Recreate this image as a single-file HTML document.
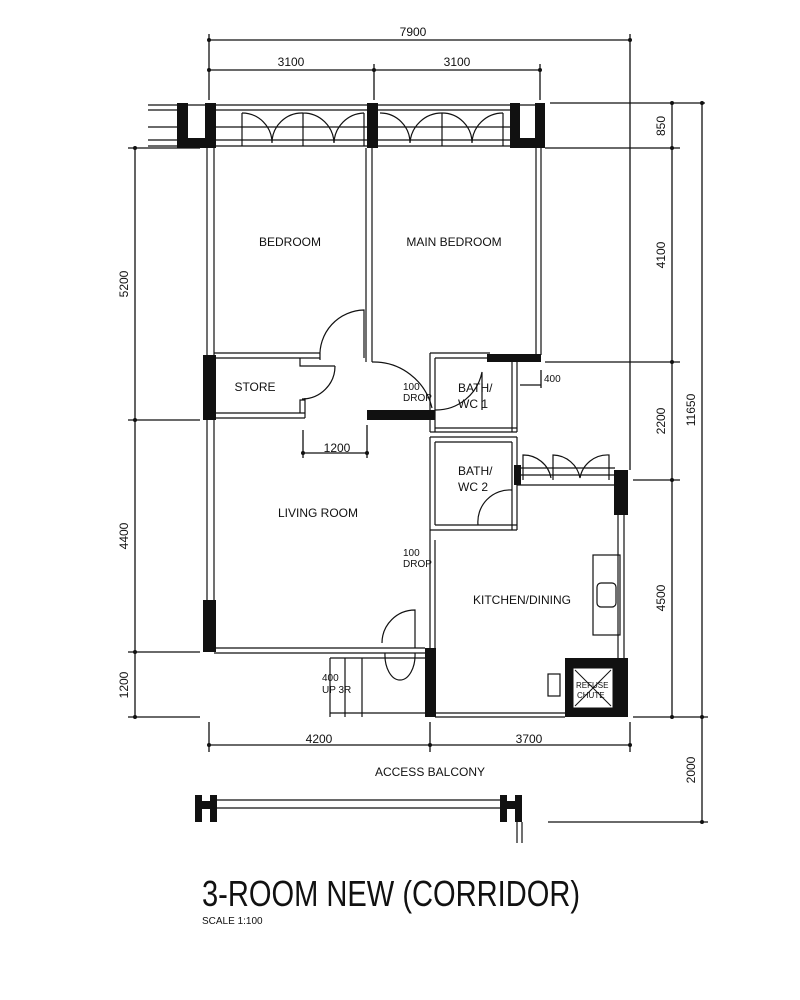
<!DOCTYPE html>
<html><head><meta charset="utf-8"><style>
html,body{margin:0;padding:0;background:#fff}
svg{display:block}
text{font-family:"Liberation Sans",sans-serif;fill:#111}
</style></head><body>
<svg width="800" height="1000" viewBox="0 0 800 1000" xmlns="http://www.w3.org/2000/svg">
<g stroke="#111" stroke-width="1.3" fill="none">
<line x1="209" y1="40" x2="630" y2="40"/>
<line x1="209" y1="34" x2="209" y2="100"/>
<line x1="630" y1="34" x2="630" y2="470"/>
<line x1="209" y1="70" x2="540" y2="70"/>
<line x1="374" y1="64" x2="374" y2="100"/>
<line x1="540" y1="64" x2="540" y2="100"/>
<line x1="550" y1="103" x2="705" y2="103"/>
<line x1="672" y1="103" x2="672" y2="717"/>
<line x1="702" y1="103" x2="702" y2="822"/>
<line x1="545" y1="148" x2="680" y2="148"/>
<line x1="545" y1="362" x2="680" y2="362"/>
<line x1="633" y1="480" x2="680" y2="480"/>
<line x1="633" y1="717" x2="708" y2="717"/>
<line x1="548" y1="822" x2="708" y2="822"/>
<line x1="135" y1="148" x2="135" y2="717"/>
<line x1="128" y1="148" x2="200" y2="148"/>
<line x1="128" y1="420" x2="200" y2="420"/>
<line x1="128" y1="652" x2="200" y2="652"/>
<line x1="128" y1="717" x2="200" y2="717"/>
<line x1="209" y1="745" x2="630" y2="745"/>
<line x1="209" y1="722" x2="209" y2="752"/>
<line x1="430" y1="722" x2="430" y2="752"/>
<line x1="630" y1="722" x2="630" y2="752"/>
<line x1="303" y1="430" x2="303" y2="458"/>
<line x1="367" y1="425" x2="367" y2="458"/>
<line x1="303" y1="453" x2="367" y2="453"/>
<line x1="520" y1="385" x2="541" y2="385"/>
<line x1="541" y1="370" x2="541" y2="388"/>
</g>
<g fill="#111">
<circle cx="209" cy="40" r="2"/><circle cx="630" cy="40" r="2"/>
<circle cx="209" cy="70" r="2"/><circle cx="374" cy="70" r="2"/><circle cx="540" cy="70" r="2"/>
<circle cx="672" cy="103" r="2"/><circle cx="702" cy="103" r="2"/><circle cx="672" cy="148" r="2"/>
<circle cx="672" cy="362" r="2"/><circle cx="672" cy="480" r="2"/><circle cx="672" cy="717" r="2"/>
<circle cx="702" cy="717" r="2"/><circle cx="702" cy="822" r="2"/>
<circle cx="135" cy="148" r="2"/><circle cx="135" cy="420" r="2"/><circle cx="135" cy="652" r="2"/><circle cx="135" cy="717" r="2"/>
<circle cx="209" cy="745" r="2"/><circle cx="430" cy="745" r="2"/><circle cx="630" cy="745" r="2"/>
<circle cx="303" cy="453" r="2"/><circle cx="367" cy="453" r="2"/>
</g>
<g stroke="#111" stroke-width="1.2" fill="none">
<line x1="148" y1="105" x2="545" y2="105"/>
<line x1="148" y1="110" x2="177" y2="110"/>
<line x1="148" y1="127" x2="177" y2="127"/>
<line x1="148" y1="140" x2="545" y2="140"/>
<line x1="148" y1="146" x2="545" y2="146"/>
<line x1="216" y1="110" x2="510" y2="110"/>
<line x1="216" y1="127" x2="510" y2="127"/>
<path d="M242 146 V113 M303 146 V113 M364 146 V113 M442 146 V113 M503 146 V113"/>
<path d="M242 113 A30 30 0 0 1 272 143 A30 30 0 0 1 303 113 A31 31 0 0 1 334 143 A31 31 0 0 1 364 113"/>
<path d="M380 113 A30 30 0 0 1 410 143 A32 32 0 0 1 442 113 A30 30 0 0 1 472 143 A31 31 0 0 1 503 113"/>
</g>
<g fill="#111">
<path d="M177 103 H188 V138 H205 V103 H216 V148 H177 Z"/>
<rect x="367" y="103" width="11" height="45"/>
<path d="M510 103 H520 V138 H535 V103 H545 V148 H510 Z"/>
</g>
<g stroke="#111" stroke-width="1.2" fill="none">
<line x1="207" y1="148" x2="207" y2="652"/><line x1="214" y1="148" x2="214" y2="652"/>
<line x1="366" y1="148" x2="366" y2="362"/><line x1="372" y1="148" x2="372" y2="362"/>
<line x1="536" y1="148" x2="536" y2="355"/><line x1="541" y1="148" x2="541" y2="355"/>
<path d="M214 353 H320 M214 358 H320 M214 413 H305 M214 418 H305 M300 413 V400 H305 M305 418 V398 M300 358 V366 H335"/>
<path d="M335 366 A33 33 0 0 1 302 399"/>
<path d="M320 353 V360 M320 358 A45 45 0 0 1 364 310 V358"/>
<path d="M372 362 A60 60 0 0 1 432 408"/>
<path d="M430 353 H490 M435 358 H490 M430 353 V432 M435 358 V432 M435 428 H517 M430 432 H517 M512 362 V432 M517 362 V432"/>
<path d="M435 410 A47 47 0 0 0 482 372 V410"/>
<path d="M430 437 H517 M435 442 H512 M430 437 V530 M435 442 V525 M435 525 H517 M430 530 H517 M512 442 V530 M517 437 V530"/>
<path d="M478 525 A32 32 0 0 1 512 490"/>
<path d="M430 530 V648 M435 540 V648"/>
<path d="M517 468 H615 M517 475 H615 M517 485 H615"/>
<path d="M523 480 V455 A28 28 0 0 1 551 478 M553 480 V455 A28 28 0 0 1 580 478 A28 28 0 0 1 609 455 V480"/>
<path d="M618 515 V660 M624 515 V660"/>
<rect x="593" y="555" width="27" height="80"/>
<rect x="597" y="583" width="19" height="24" rx="4"/>
<rect x="548" y="674" width="12" height="22"/>
<path d="M214 648 H425 M214 653 H425"/>
<path d="M330 658 V717 M345 658 V717 M362 658 V717 M330 658 H425 M330 713 H425"/>
<path d="M415 648 V610 A33 33 0 0 0 382 643 M385 653 A15 25 0 0 0 400 680 A15 25 0 0 0 415 653"/>
<path d="M435 713 H565 M435 717 H565"/>
</g>
<g fill="#111">
<rect x="203" y="355" width="13" height="65"/>
<rect x="203" y="600" width="13" height="52"/>
<rect x="367" y="410" width="68" height="10"/>
<rect x="487" y="354" width="54" height="8"/>
<rect x="514" y="465" width="7" height="20"/>
<rect x="614" y="470" width="14" height="45"/>
<rect x="425" y="648" width="11" height="69"/>
<rect x="565" y="658" width="63" height="59"/>
</g>
<rect x="573" y="668" width="40" height="40" fill="#fff" stroke="#111"/>
<path d="M575 670 L611 706 M611 670 L575 706" stroke="#111"/>
<g fill="#111">
<path d="M195 795 H202 V801 H210 V795 H217 V822 H210 V809 H202 V822 H195 Z"/>
<path d="M500 795 H507 V801 H515 V795 H522 V822 H515 V809 H507 V822 H500 Z"/>
</g>
<g stroke="#111" stroke-width="1.2">
<line x1="217" y1="800" x2="500" y2="800"/><line x1="217" y1="808" x2="500" y2="808"/>
<line x1="517" y1="822" x2="517" y2="843"/><line x1="522" y1="822" x2="522" y2="843"/>
</g>
<g font-size="12">
<text x="413" y="36" text-anchor="middle">7900</text>
<text x="291" y="66" text-anchor="middle">3100</text>
<text x="457" y="66" text-anchor="middle">3100</text>
<text x="290" y="246" text-anchor="middle">BEDROOM</text>
<text x="454" y="246" text-anchor="middle">MAIN BEDROOM</text>
<text x="255" y="391" text-anchor="middle">STORE</text>
<text x="337" y="452" text-anchor="middle">1200</text>
<text x="318" y="517" text-anchor="middle">LIVING ROOM</text>
<text x="522" y="604" text-anchor="middle">KITCHEN/DINING</text>
<text x="458" y="392">BATH/</text><text x="458" y="408">WC 1</text>
<text x="458" y="475">BATH/</text><text x="458" y="491">WC 2</text>
<text x="319" y="743" text-anchor="middle">4200</text>
<text x="529" y="743" text-anchor="middle">3700</text>
<text x="430" y="776" text-anchor="middle">ACCESS BALCONY</text>
</g>
<g font-size="10">
<text x="403" y="390">100</text><text x="403" y="401">DROP</text>
<text x="403" y="556">100</text><text x="403" y="567">DROP</text>
<text x="322" y="681">400</text><text x="322" y="693">UP 3R</text>
<text x="544" y="382">400</text>
<text x="576" y="688" font-size="8">REFUSE</text><text x="577" y="698" font-size="8">CHUTE</text>
</g>
<g font-size="12">
<text transform="translate(665,126) rotate(-90)" text-anchor="middle">850</text>
<text transform="translate(665,255) rotate(-90)" text-anchor="middle">4100</text>
<text transform="translate(665,421) rotate(-90)" text-anchor="middle">2200</text>
<text transform="translate(665,598) rotate(-90)" text-anchor="middle">4500</text>
<text transform="translate(695,410) rotate(-90)" text-anchor="middle">11650</text>
<text transform="translate(695,770) rotate(-90)" text-anchor="middle">2000</text>
<text transform="translate(128,284) rotate(-90)" text-anchor="middle">5200</text>
<text transform="translate(128,536) rotate(-90)" text-anchor="middle">4400</text>
<text transform="translate(128,685) rotate(-90)" text-anchor="middle">1200</text>
</g>
<text x="202" y="906" font-size="36" textLength="378" lengthAdjust="spacingAndGlyphs" style="font-weight:300">3-ROOM NEW (CORRIDOR)</text>
<text x="202" y="924" font-size="10">SCALE  1:100</text>
</svg>
</body></html>
